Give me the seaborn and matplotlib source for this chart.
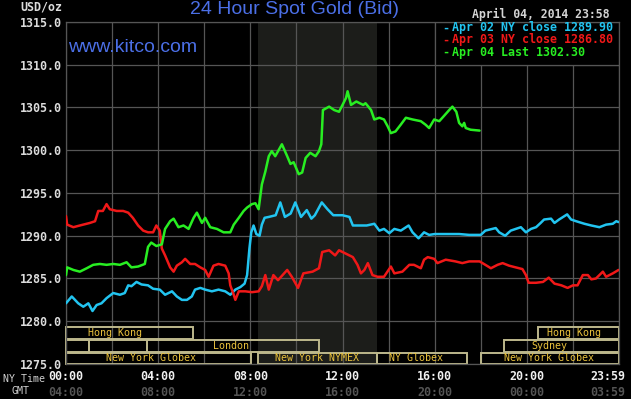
"""24 hour spot gold chart (kitco style), redrawn with seaborn."""

import matplotlib
matplotlib.use('Agg')
import matplotlib.pyplot as plt
import matplotlib.transforms as mtrans
from matplotlib.patches import Rectangle
import seaborn as sns
import pandas as pd

# ---- data (hours in NY time, price in USD/oz) ----
apr02_hours = [0.00, 0.25, 0.53, 0.75, 0.97, 1.15, 1.33, 1.54, 1.76, 2.05, 2.34, 2.55, 2.70, 2.84,
               3.06, 3.28, 3.56, 3.78, 4.07, 4.30, 4.60, 4.81, 5.03, 5.25, 5.46, 5.60, 5.83, 6.04,
               6.33, 6.62, 6.91, 7.13, 7.35, 7.57, 7.75, 7.86, 7.96, 8.04, 8.14, 8.26, 8.40, 8.50,
               8.62, 8.80, 9.10, 9.30, 9.50, 9.75, 9.95, 10.20, 10.45, 10.65, 10.80, 11.10, 11.35,
               11.60, 12.00, 12.30, 12.45, 12.75, 13.05, 13.38, 13.60, 13.80, 14.03, 14.25, 14.53,
               14.87, 15.04, 15.30, 15.54, 15.76, 16.00, 16.50, 17.06, 17.50, 18.00, 18.20, 18.50,
               18.65, 18.80, 19.06, 19.30, 19.52, 19.74, 19.96, 20.18, 20.40, 20.60, 20.75, 21.05,
               21.20, 21.40, 21.75, 21.92, 22.14, 22.50, 22.80, 23.15, 23.44, 23.73, 23.88, 23.98]
apr02_price = [1282.1, 1282.9, 1282.1, 1281.7, 1282.1, 1281.2, 1281.9, 1282.1, 1282.7, 1283.3, 1283.1,
               1283.3, 1284.2, 1284.1, 1284.6, 1284.3, 1284.2, 1283.8, 1283.7, 1283.1, 1283.5, 1282.9,
               1282.5, 1282.5, 1282.9, 1283.7, 1283.9, 1283.7, 1283.5, 1283.7, 1283.5, 1283.1, 1283.7,
               1284.0, 1284.4, 1285.4, 1288.5, 1290.4, 1291.2, 1290.2, 1290.0, 1291.3, 1292.1, 1292.2,
               1292.4, 1293.9, 1292.2, 1292.6, 1293.9, 1292.2, 1293.0, 1292.0, 1292.4, 1293.9, 1293.1,
               1292.4, 1292.4, 1292.2, 1291.2, 1291.2, 1291.2, 1291.4, 1290.6, 1290.8, 1290.3, 1290.8,
               1290.6, 1291.2, 1290.4, 1289.7, 1290.4, 1290.1, 1290.2, 1290.2, 1290.2, 1290.1, 1290.1,
               1290.6, 1290.8, 1290.9, 1290.4, 1290.0, 1290.6, 1290.8, 1291.0, 1290.4, 1290.8, 1291.0,
               1291.5, 1291.9, 1292.0, 1291.5, 1291.9, 1292.5, 1291.9, 1291.7, 1291.4, 1291.2, 1291.0,
               1291.3, 1291.4, 1291.7, 1291.6]

apr03_hours = [0.00, 0.05, 0.32, 0.60, 1.04, 1.26, 1.40, 1.60, 1.76, 1.90, 2.20, 2.48, 2.70, 2.90,
               3.13, 3.35, 3.56, 3.78, 3.92, 4.07, 4.16, 4.30, 4.52, 4.67, 4.81, 5.03, 5.17, 5.39,
               5.60, 5.83, 6.04, 6.19, 6.40, 6.62, 6.91, 7.06, 7.13, 7.28, 7.35, 7.50, 7.78, 8.07,
               8.36, 8.50, 8.65, 8.80, 9.00, 9.20, 9.60, 9.80, 10.07, 10.30, 10.70, 10.98, 11.12,
               11.42, 11.68, 11.85, 12.15, 12.45, 12.65, 12.80, 12.95, 13.10, 13.30, 13.52, 13.80,
               14.10, 14.25, 14.60, 14.90, 15.10, 15.40, 15.54, 15.70, 15.98, 16.12, 16.48, 16.90,
               17.20, 17.50, 17.95, 18.20, 18.44, 18.73, 18.95, 19.23, 19.52, 19.81, 19.96, 20.08,
               20.40, 20.70, 20.95, 21.20, 21.50, 21.77, 22.00, 22.20, 22.43, 22.65, 22.80, 23.00,
               23.30, 23.44, 23.73, 23.98]
apr03_price = [1292.3, 1291.3, 1291.0, 1291.2, 1291.5, 1291.7, 1292.9, 1292.9, 1293.7, 1293.1, 1292.9,
               1292.9, 1292.7, 1292.1, 1291.2, 1290.6, 1290.4, 1290.4, 1291.2, 1290.6, 1288.5, 1287.7,
               1286.3, 1285.8, 1286.5, 1286.9, 1287.3, 1286.7, 1286.7, 1286.3, 1286.0, 1285.2, 1286.5,
               1286.7, 1286.5, 1285.6, 1284.2, 1283.1, 1282.5, 1283.5, 1283.5, 1283.4, 1283.5, 1284.1,
               1285.4, 1283.7, 1285.4, 1284.8, 1286.0, 1285.2, 1283.9, 1285.6, 1285.8, 1286.2, 1288.1,
               1288.3, 1287.7, 1288.3, 1287.9, 1287.5, 1286.6, 1285.6, 1286.0, 1286.8, 1285.4, 1285.2,
               1285.2, 1286.4, 1285.6, 1285.8, 1286.6, 1286.6, 1286.2, 1287.2, 1287.5, 1287.3, 1286.8,
               1287.2, 1287.0, 1286.8, 1287.0, 1287.0, 1286.6, 1286.2, 1286.6, 1286.8, 1286.5, 1286.3,
               1286.1, 1285.4, 1284.5, 1284.5, 1284.6, 1285.1, 1284.4, 1284.2, 1283.9, 1284.2, 1284.2,
               1285.4, 1285.4, 1284.9, 1285.0, 1285.8, 1285.2, 1285.6, 1286.0]

apr04_hours = [0.00, 0.05, 0.32, 0.60, 0.90, 1.18, 1.47, 1.76, 2.05, 2.34, 2.63, 2.84, 3.13, 3.42,
               3.56, 3.70, 3.92, 4.16, 4.30, 4.52, 4.67, 4.88, 5.10, 5.32, 5.54, 5.68, 5.90, 6.04,
               6.26, 6.55, 6.84, 7.13, 7.28, 7.50, 7.71, 7.86, 8.07, 8.22, 8.36, 8.50, 8.65, 8.80,
               8.93, 9.08, 9.37, 9.60, 9.74, 9.88, 10.10, 10.25, 10.40, 10.60, 10.83, 10.98, 11.08,
               11.15, 11.42, 11.64, 11.85, 12.00, 12.15, 12.22, 12.37, 12.60, 12.90, 13.00, 13.24,
               13.38, 13.60, 13.80, 13.96, 14.10, 14.30, 14.53, 14.75, 15.04, 15.40, 15.60, 15.76,
               15.98, 16.20, 16.40, 16.63, 16.77, 16.94, 17.06, 17.20, 17.28, 17.35, 17.56, 17.95]
apr04_price = [1285.4, 1286.3, 1286.0, 1285.8, 1286.2, 1286.6, 1286.7, 1286.6, 1286.7, 1286.6, 1286.9,
               1286.3, 1286.4, 1286.7, 1288.7, 1289.2, 1288.8, 1289.0, 1290.8, 1291.7, 1292.0, 1291.0,
               1291.2, 1290.8, 1292.1, 1292.7, 1291.5, 1292.1, 1291.0, 1290.8, 1290.4, 1290.4, 1291.3,
               1292.1, 1292.9, 1293.3, 1293.7, 1293.8, 1293.1, 1296.0, 1297.5, 1299.3, 1299.9, 1299.3,
               1300.7, 1299.3, 1298.4, 1298.6, 1297.2, 1297.4, 1299.1, 1299.7, 1299.3, 1299.9, 1300.7,
               1304.7, 1305.1, 1304.7, 1304.5, 1305.3, 1306.1, 1306.9, 1305.3, 1305.7, 1305.3, 1305.5,
               1304.7, 1303.6, 1303.8, 1303.6, 1302.8, 1302.0, 1302.2, 1303.0, 1303.8, 1303.6, 1303.4,
               1303.0, 1302.6, 1303.6, 1303.4, 1304.0, 1304.7, 1305.1, 1304.5, 1303.2, 1302.8, 1303.2,
               1302.6, 1302.4, 1302.3]

series_names = ['Apr 02 NY close 1289.90', 'Apr 03 NY close 1286.80', 'Apr 04 Last 1302.30']
series_colors = ['#22c4f0', '#f01818', '#28ee22']

# trading sessions drawn under the chart: row (0 = top), start, end, label, label centre
session_rows = [0, 0, 1, 1, 1, 1, 2, 2, 2, 2]
session_start = [0, 20.5, 0, 1.0, 3.5, 19.0, 0, 8.33, 13.5, 18.0]
session_end = [5.5, 24, 1.0, 3.5, 11.0, 24, 8.05, 13.5, 17.4, 24]
session_names = ['Hong Kong', 'Hong Kong', '', '', 'London', 'Sydney',
                 'New York Globex', 'New York NYMEX', 'NY Globex', 'New York Globex']
session_label_at = [2.13, 22.05, None, None, 7.16, 20.96, 3.67, 10.9, 15.19, 20.96]

ny_ticks = [0, 4, 8, 12, 16, 20, 24]
ny_labels = ['00:00', '04:00', '08:00', '12:00', '16:00', '20:00', '23:59']
gmt_labels = ['04:00', '08:00', '12:00', '16:00', '20:00', '00:00', '03:59']

# ---- style ----
sns.set_style('dark', {'axes.facecolor': 'black', 'figure.facecolor': 'black',
                       'grid.color': '#555555', 'axes.edgecolor': '#555555'})
MONO = 'DejaVu Sans Mono'
GRID = '#555555'
TITLE_BLUE = '#4b6fe6'
SESSION_EDGE = '#bdb88c'
SESSION_TEXT = '#eac23c'

W, H = 631, 399
fig = plt.figure(figsize=(W / 100, H / 100), dpi=100, facecolor='black')
ax = fig.add_axes([66 / W, 1 - 364 / H, 553 / W, 342 / H])
ax.set_facecolor('black')

frames = []
for name, hrs, px in zip(series_names,
                         [apr02_hours, apr03_hours, apr04_hours],
                         [apr02_price, apr03_price, apr04_price]):
    frames.append(pd.DataFrame({'hour': hrs, 'price': px, 'series': name}))
df = pd.concat(frames, ignore_index=True)

# NYMEX floor hours shaded
ax.axvspan(8.33, 13.5, color='#1c1d1a', zorder=0, lw=0)

sns.lineplot(data=df, x='hour', y='price', hue='series', hue_order=series_names,
             palette=series_colors, estimator=None, legend=False, lw=1.8, ax=ax, zorder=3)

ax.set_xlim(0, 24)
ax.set_ylim(1275, 1315)
ax.set_xticks(range(0, 25, 2))
ax.set_xticklabels([])
ax.set_yticks(range(1275, 1316, 5))
ax.set_yticklabels([f'{v:.1f}' for v in range(1275, 1316, 5)])
ax.tick_params(axis='y', length=0, pad=3, labelsize=8.4, labelcolor='#dcdcdc')
ax.tick_params(axis='x', length=0)
for lab in ax.get_yticklabels():
    lab.set_family(MONO)
    lab.set_fontweight('bold')
ax.set_xlabel('')
ax.set_ylabel('')
ax.grid(True, color=GRID, lw=0.9)
ax.set_axisbelow(True)
for sp in ax.spines.values():
    sp.set_color(GRID)
    sp.set_linewidth(0.9)

# session boxes
row_bottom = [1277.9, 1276.4, 1275.05]
row_height = [1.4, 1.4, 1.25]
for r, s, e, name, at in zip(session_rows, session_start, session_end,
                             session_names, session_label_at):
    ax.add_patch(Rectangle((s, row_bottom[r]), e - s, row_height[r], fill=False,
                           ec=SESSION_EDGE, lw=1.4, zorder=2, clip_on=False))
    if name:
        ax.text(at, row_bottom[r] + row_height[r] / 2, name, family=MONO, fontsize=7.2,
                color=SESSION_TEXT, ha='center', va='center', zorder=4)

# legend box in the top right grid cell
ax.add_patch(Rectangle((16, 1310), 8, 5, fc='black', ec=GRID, lw=0.9, zorder=2))
leg_y = [28, 40, 52.5]
for name, col, y in zip(series_names, series_colors, leg_y):
    fig.text(442 / W, 1 - y / H, '-', family=MONO, fontsize=8.4, fontweight='bold',
             color=col, ha='left', va='center')
    fig.text(452 / W, 1 - y / H, name, family=MONO, fontsize=8.4, fontweight='bold',
             color=col, ha='left', va='center')

# titles
fig.text(295 / W, 1 - 10 / H, '24 Hour Spot Gold (Bid)', family='Liberation Sans',
         fontsize=14, color=TITLE_BLUE, ha='center', va='center')
fig.text(68 / W, 1 - 47 / H, 'www.kitco.com', family='Liberation Sans',
         fontsize=14, color=TITLE_BLUE, ha='left', va='center')
fig.text(609 / W, 1 - 14 / H, 'April 04, 2014 23:58', family=MONO, fontsize=8.3,
         fontweight='bold', color='#d4d4d4', ha='right', va='center')
fig.text(62 / W, 1 - 7 / H, 'USD/oz', family=MONO, fontsize=8.4, fontweight='bold',
         color='#dcdcdc', ha='right', va='center')

# time axis labels (NY time and GMT)
trans = mtrans.blended_transform_factory(ax.transData, fig.transFigure)
for t, ny, gmt in zip(ny_ticks, ny_labels, gmt_labels):
    ha = 'center'
    x = t
    if t == 24:
        ha = 'right'
        x = (625 - 66) / 23.04
    ax.text(x, 1 - 377 / H, ny, transform=trans, family=MONO, fontsize=8.4,
            fontweight='bold', color='#f0f0f0', ha=ha, va='center', clip_on=False)
    ax.text(x, 1 - 392 / H, gmt, transform=trans, family=MONO, fontsize=8.4,
            fontweight='bold', color='#545454', ha=ha, va='center', clip_on=False)
fig.text(45 / W, 1 - 379 / H, 'NY Time', family=MONO, fontsize=7.2,
         color='#cfcfcf', ha='right', va='center')
fig.text(20.5 / W, 1 - 391 / H, 'GMT', family=MONO, fontsize=7.2,
         color='#cfcfcf', ha='center', va='center')

fig.savefig('out.png', dpi=100, facecolor='black')
